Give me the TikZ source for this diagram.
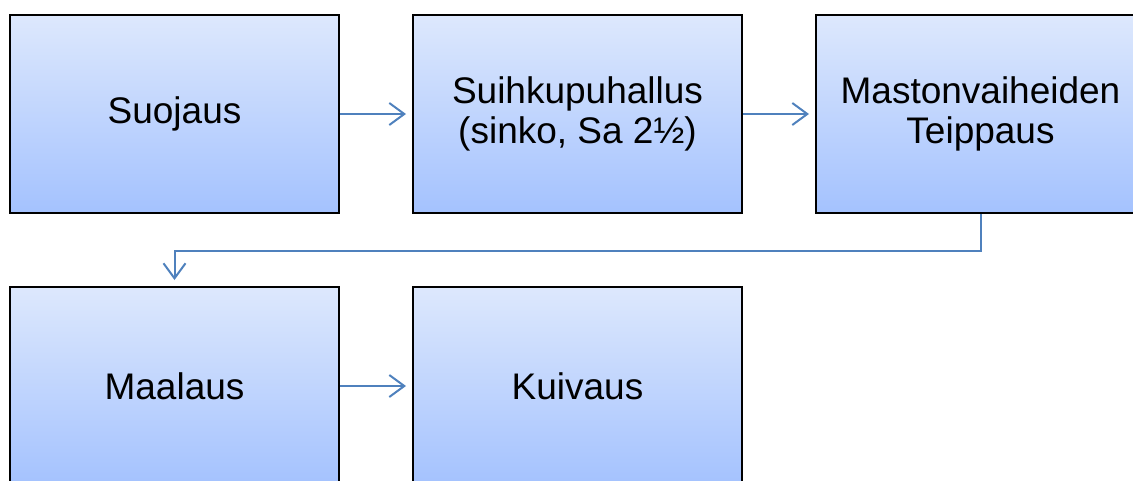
\documentclass[tikz,border=0pt]{standalone}
\usepackage{fontspec}
\setmainfont{Liberation Sans}
\usetikzlibrary{arrows.meta}
\definecolor{boxtop}{RGB}{221,232,253}
\definecolor{boxbot}{RGB}{164,194,254}
\definecolor{flow}{RGB}{79,129,189}
\begin{document}
\begin{tikzpicture}[x=1pt,y=-1pt,
  stepbox/.style={draw=black, line width=2pt, top color=boxtop, bottom color=boxbot,
    minimum width=329pt, minimum height=198pt, inner sep=0pt, align=center,
    font=\fontsize{37}{40}\selectfont},
  flowline/.style={draw=flow, line width=2pt,
    -{Straight Barb[length=15pt,width=22pt,line width=2pt]}}]
\useasboundingbox (0,0) rectangle (1133,480);
\clip (0,0) rectangle (1133,480);
\node[stepbox] (suojaus) at (174.5,114) {Suojaus};
\node[stepbox] (suihku) at (577.5,114) {Suihkupuhallus\\(sinko, Sa 2½)};
\node[stepbox] (teippaus) at (980.5,114) {Mastonvaiheiden\\Teippaus};
\node[stepbox] (maalaus) at (174.5,386) {Maalaus};
\node[stepbox] (kuivaus) at (577.5,386) {Kuivaus};
\draw[flowline, shorten >=6pt] (suojaus.east) -- (suihku.west);
\draw[flowline, shorten >=6pt] (suihku.east) -- (teippaus.west);
\draw[flowline, shorten >=6pt] (teippaus.south) -- ++(0,37) -| (maalaus.north);
\draw[flowline, shorten >=6pt] (maalaus.east) -- (kuivaus.west);
\end{tikzpicture}
\end{document}
